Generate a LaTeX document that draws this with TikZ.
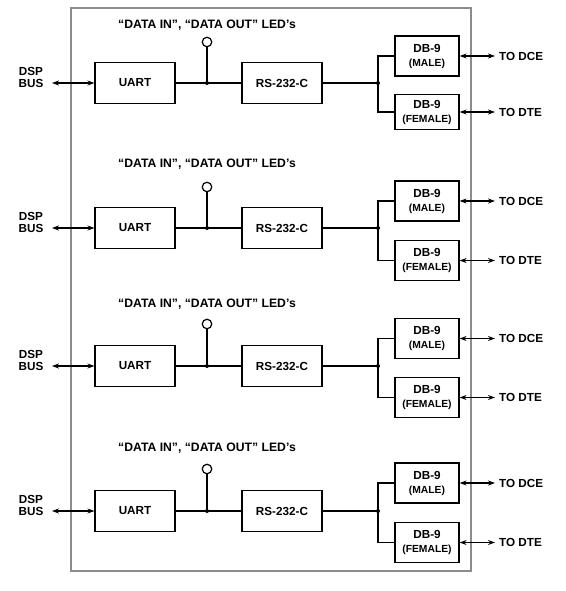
\documentclass[tikz,border=0pt]{standalone}
\usepackage{fontspec}
\setmainfont{Liberation Sans}
\usetikzlibrary{arrows.meta}
\begin{document}
\begin{tikzpicture}[x=1pt,y=-1pt,
  blk/.style={draw, line width=1.1pt, minimum width=80pt, minimum height=41pt, inner sep=0pt,
    font=\bfseries\fontsize{11.7}{13}\selectfont},
  dbbox/.style={draw, line width=1.2pt, minimum width=64pt, minimum height=40pt, inner sep=0pt,
    align=center, font=\bfseries\fontsize{11.7}{13}\selectfont},
  wire/.style={line width=1.6pt},
  thin wire/.style={line width=1.2pt},
  bus/.style={{Stealth[length=7pt,width=5pt]}-{Stealth[length=7pt,width=5pt]}, line width=1.5pt},
  lbl/.style={font=\bfseries\fontsize{11.7}{12}\selectfont, inner sep=0pt},
  led/.style={draw, circle, minimum size=9.5pt, inner sep=0pt, line width=1.2pt},
  frame/.style={draw=black!45, line width=1.2pt}
]
\useasboundingbox (0,0) rectangle (565,591);
\draw[frame] (71,8) rectangle (471,571);
\foreach \r/\lb/\ld/\m/\f/\fh/\i in {83/25/42/56/112/35/1, 228/164/187/201/260.5/40/2, 366/304/324/338.5/397.5/40/3, 511/448/469/483/542.5/40/4}{
  \node[blk] (uart\i) at (135,\r) {UART};
  \node[blk, line width=1.8pt] (rs\i) at (282,\r) {RS-232-C};
  \node[dbbox] (male\i) at (427,\m) {DB-9\\[1pt]{\fontsize{10.3}{12}\selectfont (MALE)}};
  \node[dbbox, minimum height=\fh pt] (fem\i) at (427,\f) {DB-9\\[1pt]{\fontsize{10.3}{12}\selectfont (FEMALE)}};
  \coordinate (j\i) at (378,\r);
  \coordinate (k\i) at (207,\r);
  \node[led] (led\i) at (207,\ld) {};
  \node[lbl, font=\bfseries\fontsize{12.2}{13}\selectfont] (title\i) at (207,\lb) {“DATA IN”, “DATA OUT” LED’s};
  \node[lbl, align=center, font=\bfseries\fontsize{11.7}{12.5}\selectfont] (dsp\i) at (31,{\r-5.5}) {DSP\\BUS};
  \coordinate (bus\i) at (52,\r);
  \coordinate (dcea\i) at (495,\m);
  \coordinate (dtea\i) at (495,\f);
  \node[lbl, anchor=west] (dce\i) at (499,\m) {TO DCE};
  \node[lbl, anchor=west] (dte\i) at (499,\f) {TO DTE};
  \draw[wire] (uart\i) -- (rs\i);
  \draw[wire] (led\i) -- (k\i);
  \fill (k\i) circle (2pt);
  \draw[thin wire] (rs\i) -- (j\i);
  \draw[thin wire] (male\i.west) -| (j\i) |- (fem\i.west);
  \fill (j\i) circle (2pt);
  \draw[bus] (bus\i) -- (uart\i);
  \draw[bus] (male\i) -- (dcea\i);
  \draw[bus] (fem\i) -- (dtea\i);
}
\end{tikzpicture}
\end{document}
